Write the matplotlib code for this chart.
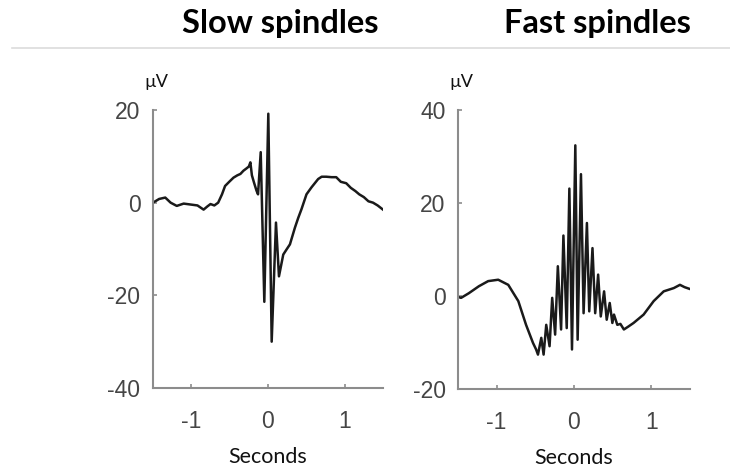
import matplotlib
matplotlib.use("Agg")
import matplotlib.pyplot as plt
from matplotlib.lines import Line2D

# ---- data ----
slow_t = [-1.50, -1.42, -1.34, -1.27, -1.19, -1.10, -1.01, -0.92, -0.84, -0.79, -0.75, -0.70,
          -0.65, -0.60, -0.56, -0.50, -0.45, -0.40, -0.36, -0.32, -0.28, -0.25, -0.23, -0.21,
          -0.18, -0.15, -0.13, -0.095, -0.048, 0.004, 0.048, 0.104, 0.143, 0.199, 0.242,
          0.286, 0.351, 0.394, 0.437, 0.502, 0.567, 0.654, 0.70, 0.76, 0.83, 0.89, 0.95,
          1.02, 1.08, 1.14, 1.19, 1.25, 1.31, 1.37, 1.43, 1.50]
slow_v = [0.0, 0.8, 1.1, 0.0, -0.7, -0.2, -0.4, -0.6, -1.5, -0.8, -0.3, -0.6,
          0.0, 1.8, 3.6, 4.6, 5.4, 5.9, 6.2, 6.9, 7.4, 7.8, 8.7, 5.9,
          4.2, 2.6, 1.8, 10.9, -21.4, 19.2, -30.0, -4.3, -15.9, -11.2, -10.1,
          -9.0, -5.4, -3.3, -1.4, 1.8, 3.3, 5.1, 5.6, 5.6, 5.5, 5.5, 4.5,
          4.2, 3.2, 2.5, 1.8, 1.2, 0.3, 0.0, -0.6, -1.5]

fast_t = [-1.50, -1.46, -1.36, -1.23, -1.11, -0.98, -0.85, -0.72, -0.62, -0.53, -0.49,
          -0.466, -0.423, -0.393, -0.359, -0.316, -0.282, -0.244, -0.209, -0.167, -0.137,
          -0.094, -0.060, -0.026, 0.017, 0.047, 0.090, 0.124, 0.167, 0.197, 0.239, 0.274,
          0.312, 0.346, 0.389, 0.423, 0.462, 0.496, 0.517, 0.56, 0.60, 0.645, 0.70, 0.77,
          0.90, 1.03, 1.16, 1.29, 1.37, 1.43, 1.50]
fast_v = [-0.2, -0.4, 0.6, 2.1, 3.2, 3.5, 2.4, -1.1, -6.2, -10.1, -11.5,
          -12.6, -9.0, -12.6, -6.2, -10.8, -0.4, -8.3, 6.4, -7.2, 13.0,
          -6.9, 23.1, -11.5, 32.4, -9.4, 26.2, -3.7, 15.7, -3.3, 10.3, -3.7,
          4.6, -4.4, 1.0, -5.1, -1.5, -5.8, -4.0, -6.2, -6.0, -7.2, -6.6, -5.8,
          -4.0, -1.1, 1.0, 1.7, 2.4, 1.9, 1.5]

titles = ["Slow spindles", "Fast spindles"]
x_ticks = [-1, 0, 1]
slow_yticks = [-40, -20, 0, 20]
fast_yticks = [-20, 0, 20, 40]
slow_ylim = (-40, 20)
fast_ylim = (-20, 40)
xlim = (-1.5, 1.5)
xlabel = "Seconds"
unit = "µV"

fig = plt.figure(figsize=(7.30, 4.68), dpi=100)

# separator line under titles
fig.add_artist(Line2D([12/730, 1.0], [1 - 48/468, 1 - 48/468], color="#dcdcdc", lw=1.2))

title_font = dict(family=["Lato", "DejaVu Sans"], fontweight="bold", fontsize=23.5, color="black")
fig.text(280/730, 1 - 23/468, titles[0], ha="center", va="center", **title_font)
fig.text(597/730, 1 - 23/468, titles[1], ha="center", va="center", **title_font)

panels = [
    ([153/730, 1 - 388/468, 230/730, 278/468], slow_t, slow_v, slow_ylim, slow_yticks),
    ([458/730, 1 - 389/468, 232/730, 279/468], fast_t, fast_v, fast_ylim, fast_yticks),
]

spine_col = "#8c8c8c"
for rect, t, v, ylim, yticks in panels:
    ax = fig.add_axes(rect)
    ax.plot(t, v, color="#1a1a1a", lw=1.8, solid_joinstyle="round")
    ax.set_xlim(*xlim)
    ax.set_ylim(*ylim)
    ax.set_xticks(x_ticks)
    ax.set_yticks(yticks)
    ax.set_xticklabels([str(x) for x in x_ticks])
    ax.set_yticklabels([str(y) for y in yticks])
    for s in ["top", "right"]:
        ax.spines[s].set_visible(False)
    for s in ["left", "bottom"]:
        ax.spines[s].set_color(spine_col)
        ax.spines[s].set_linewidth(1.5)
    ax.tick_params(direction="in", length=3, width=1.2, color=spine_col,
                   labelsize=16.5, labelcolor="#454545")
    ax.tick_params(axis="y", pad=9)
    ax.tick_params(axis="x", pad=16)
    for lab in ax.get_xticklabels() + ax.get_yticklabels():
        lab.set_family(["Liberation Sans", "DejaVu Sans"])
    ax.set_xlabel(xlabel, fontsize=15.5, family=["Lato", "DejaVu Sans"], color="#111111", labelpad=10)
    ax.text(0.015, 1.1, unit, transform=ax.transAxes, ha="center", va="center",
            fontsize=13, family=["Lato", "DejaVu Sans"], color="#111111")

fig.savefig("out.png", dpi=100)
